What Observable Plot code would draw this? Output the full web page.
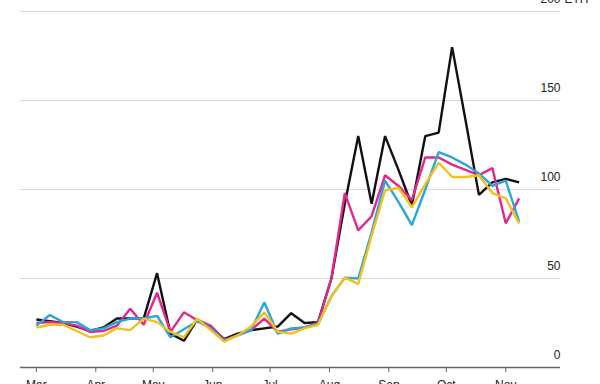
<!DOCTYPE html>
<html>
<head>
<meta charset="utf-8">
<script src="https://cdn.jsdelivr.net/npm/d3@7"></script>
<script src="https://cdn.jsdelivr.net/npm/@observablehq/plot@0.6"></script>
<style>
  html, body { margin: 0; padding: 0; background: #fff; }
  svg { display: block; }
</style>
</head>
<body>
<div id="chart"></div>
<script>
const dates = ["2020-03-01","2020-03-08","2020-03-15","2020-03-22","2020-03-29","2020-04-05","2020-04-12","2020-04-19","2020-04-26","2020-05-03","2020-05-10","2020-05-17","2020-05-24","2020-05-31","2020-06-07","2020-06-14","2020-06-21","2020-06-28","2020-07-05","2020-07-12","2020-07-19","2020-07-26","2020-08-02","2020-08-09","2020-08-16","2020-08-23","2020-08-30","2020-09-06","2020-09-13","2020-09-20","2020-09-27","2020-10-04","2020-10-11","2020-10-18","2020-10-25","2020-11-01","2020-11-08"];

const seriesBlack  = [27,26,25,23,20.5,22.5,27.5,27.5,27.5,53,19,15,27,23,16,19,21,22,23,30.5,25,25.5,50,92,130,92,130,111,91,130,132,180,139,97,104,106,104];
const seriesPink   = [25,25.5,25,23.5,20,20.5,23.5,33,24,42,20,31,26.5,23.5,15.5,18,21,27.5,20,21.5,22.5,25,50,98,77,85,108,102,94,118,118,114,111,108,112,81,95];
const seriesCyan   = [23.5,29.5,25.5,25.5,21,22,25.5,27.5,27.5,29,17,21.5,26,22,15,18,21,36.5,19,22,22.5,24.5,40,50.5,50,76,105,93,80,100,121,118,114,109,102,105,82];
const seriesYellow = [22.5,24,24,20.5,17,18,22,21,27.5,25.5,20,17,27.5,21,14.5,18,23,31,20,19,22,24,40,50.5,47,74,99.5,101,90,103,115,107,107,108,98,95,81];

const monthTicks = ["2020-03-01","2020-04-01","2020-05-01","2020-06-01","2020-07-01","2020-08-01","2020-09-01","2020-10-01","2020-11-01"];
const yTicks = [0, 50, 100, 150, 200];
const gridValues = [50, 100, 150, 200];

const colors = {black: "#111111", pink: "#e2288c", cyan: "#2ba6dd", yellow: "#f1c21b"};

const parse = s => new Date(s + "T00:00:00Z");
const mk = (vals, key) => dates.map((d, i) => ({date: parse(d), value: vals[i], key}));
const rows = [
  ...mk(seriesBlack, "black"),
  ...mk(seriesPink, "pink"),
  ...mk(seriesCyan, "cyan"),
  ...mk(seriesYellow, "yellow")
];
const order = ["black", "pink", "cyan", "yellow"];

const chart = Plot.plot({
  width: 600,
  height: 384,
  marginLeft: 20,
  marginRight: 40,
  marginTop: 11,
  marginBottom: 17,
  style: {fontFamily: "'Liberation Sans', Arial, Helvetica, sans-serif", fontSize: "12px", color: "#222", background: "#fff"},
  x: {type: "utc", domain: [new Date(Date.UTC(2020,1,21,17)), new Date(Date.UTC(2020,10,29,14))]},
  y: {domain: [0, 200]},
  marks: [
    Plot.ruleY(gridValues, {stroke: "#d9d9d9", strokeWidth: 1}),
    Plot.ruleY([0], {stroke: "#666", strokeWidth: 1.5}),
    Plot.axisX({ticks: monthTicks.map(parse), tickFormat: d3.utcFormat("%b"), tickSize: 5, tickPadding: 8, stroke: "#666", fill: "#222", label: null}),
    Plot.axisY({anchor: "right", ticks: yTicks, tickSize: 0, tickPadding: 0, textAnchor: "end", dy: -12, fill: "#222", label: null}),
    Plot.axisY({anchor: "right", ticks: [200], tickSize: 0, tickPadding: 4, textAnchor: "start", tickFormat: () => "ETH", dy: -12, fill: "#222", label: null}),
    ...order.map(k => Plot.line(rows.filter(r => r.key === k), {x: "date", y: "value", stroke: colors[k], strokeWidth: 2.4, strokeLinejoin: "miter", strokeLinecap: "butt"}))
  ]
});
document.getElementById("chart").appendChild(chart);
</script>
</body>
</html>
